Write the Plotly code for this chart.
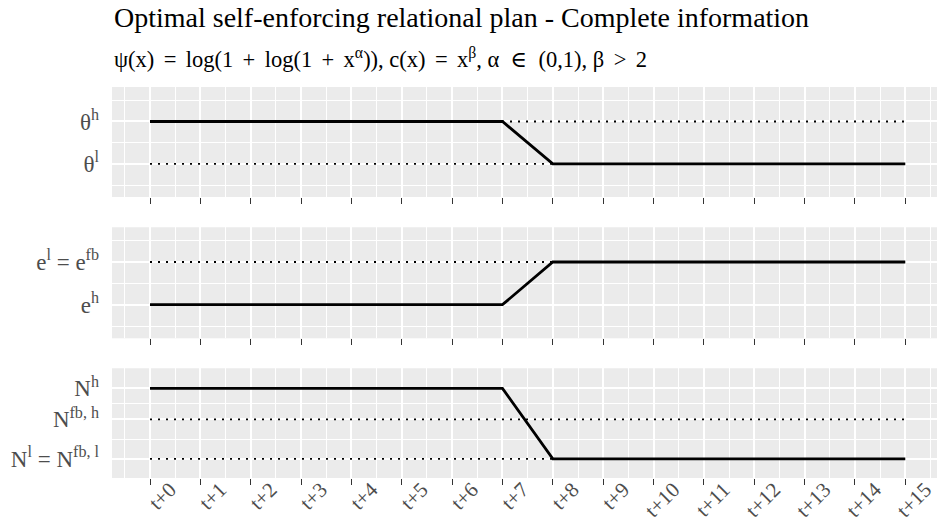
import plotly.graph_objects as go

# Periods t+0 ... t+15
periods = list(range(16))
period_labels = [f"t+{p}" for p in periods]

# Optimal plan paths (state levels coded on each panel's own scale)
theta_path = [1, 1, 1, 1, 1, 1, 1, 1, 0, 0, 0, 0, 0, 0, 0, 0]
effort_path = [0, 0, 0, 0, 0, 0, 0, 0, 1, 1, 1, 1, 1, 1, 1, 1]
n_path = [1, 1, 1, 1, 1, 1, 1, 1, 0, 0, 0, 0, 0, 0, 0, 0]

# Reference levels drawn as dotted lines
theta_refs = [1, 0]
effort_refs = [1]
n_refs = [0.56, 0]

# Y-axis tick values and labels per panel
theta_ticks = [0, 1]
theta_labels = ["θ<sup>l</sup>", "θ<sup>h</sup>"]
effort_ticks = [0, 1]
effort_labels = ["e<sup>h</sup>", "e<sup>l</sup> = e<sup>fb</sup>"]
n_ticks = [0, 0.56, 1]
n_labels = ["N<sup>l</sup> = N<sup>fb, l</sup>", "N<sup>fb, h</sup>", "N<sup>h</sup>"]

SERIF = "Liberation Serif, Tinos, 'Times New Roman', 'DejaVu Serif', serif"
PANEL_BG = "#EBEBEB"
TEXT_GREY = "#4D4D4D"

fig = go.Figure()

panels = [
    ("x", "y", theta_path, theta_refs),
    ("x2", "y2", effort_path, effort_refs),
    ("x3", "y3", n_path, n_refs),
]
for xa, ya, path, refs in panels:
    for r in refs:
        fig.add_trace(go.Scatter(
            x=[periods[0], periods[-1]], y=[r, r], mode="lines",
            line=dict(color="black", width=1.8, dash="2px,6px"),
            xaxis=xa, yaxis=ya, showlegend=False, hoverinfo="skip"))
    fig.add_trace(go.Scatter(
        x=periods, y=path, mode="lines",
        line=dict(color="black", width=2.8),
        xaxis=xa, yaxis=ya, showlegend=False))

x_range = [-0.755, 15.63]
x_minor = [p - 0.5 for p in periods] + [periods[-1] + 0.5]

def x_axis(anchor, show_labels):
    return dict(
        anchor=anchor, domain=[0, 1], range=x_range,
        tickmode="array", tickvals=periods, ticktext=period_labels,
        showticklabels=show_labels, tickangle=-45,
        ticks="outside", ticklen=6, tickwidth=1.2, tickcolor="#333333",
        showgrid=True, gridcolor="white", gridwidth=1.8,
        minor=dict(tickmode="array", tickvals=x_minor, showgrid=True,
                   gridcolor="white", gridwidth=0.9, ticks=""),
        zeroline=False, showline=False, automargin=False,
        tickfont=dict(family=SERIF, size=21, color=TEXT_GREY),
        ticklabelshift=20, ticklabelstandoff=-16,
    )

def y_axis(anchor, domain, rng, vals, labels, minor_vals):
    return dict(
        anchor=anchor, domain=domain, range=rng,
        tickmode="array", tickvals=vals, ticktext=labels,
        ticks="", showgrid=True, gridcolor="white", gridwidth=1.8,
        minor=dict(tickmode="array", tickvals=minor_vals, showgrid=True,
                   gridcolor="white", gridwidth=0.9, ticks=""),
        zeroline=False, showline=False, automargin=False,
        tickfont=dict(family=SERIF, size=23, color=TEXT_GREY),
        ticklabelstandoff=12,
    )

fig.update_layout(
    width=937, height=522,
    margin=dict(l=112, r=0, t=87, b=44),
    paper_bgcolor="white", plot_bgcolor=PANEL_BG,
    font=dict(family=SERIF),
    xaxis=x_axis("y", False),
    xaxis2=x_axis("y2", False),
    xaxis3=x_axis("y3", True),
    yaxis=y_axis("x", [0.7187, 1.0], [-0.78, 1.813], theta_ticks, theta_labels, [-0.5, 0.5, 1.5]),
    yaxis2=y_axis("x2", [0.3573, 0.6412], [-0.787, 1.813], effort_ticks, effort_labels, [-0.5, 0.5, 1.5]),
    yaxis3=y_axis("x3", [0.0, 0.2806], [-0.27, 1.284], n_ticks, n_labels, [0.28, 0.78]),
)

def paper_y(px):
    return 1 + (87 - px) / 391

SP = " \u2006"          # word space plus a six-per-em space around operators
NB = "\u00a0"
subtitle = (
    f"ψ(x){SP}={SP}log(1{SP}+{SP}log(1{SP}+{SP}x<sup>α</sup>)), "
    f"c(x){SP}={SP}x<sup>β</sup>, α{NB}{NB}∈{NB}{NB}(0,1), β{SP}>{SP}2"
)

fig.add_annotation(
    text="Optimal self-enforcing relational plan - Complete information",
    xref="paper", yref="paper", x=0.0, y=paper_y(18), xanchor="left", yanchor="middle",
    showarrow=False, font=dict(family=SERIF, size=28, color="black"))
fig.add_annotation(
    text=subtitle,
    xref="paper", yref="paper", x=0.0, y=paper_y(58), xanchor="left", yanchor="middle",
    showarrow=False, font=dict(family=SERIF, size=22.5, color="black"))

fig.write_html("out.html")
